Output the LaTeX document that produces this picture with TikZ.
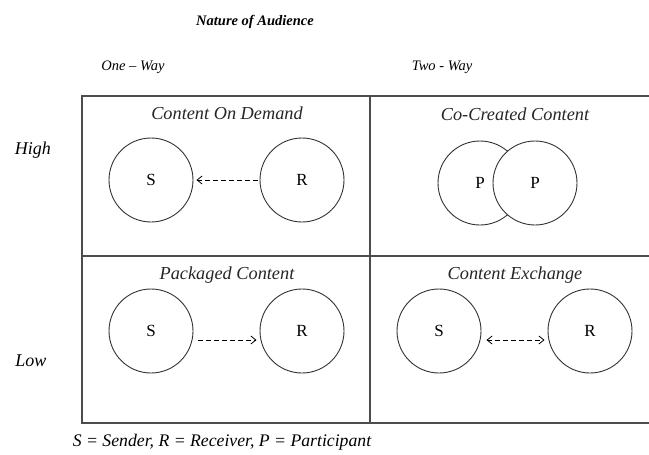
\documentclass[tikz,border=0pt]{standalone}
\usepackage{fontspec}
\setmainfont{Liberation Serif}
\usetikzlibrary{arrows.meta}
\begin{document}
\begin{tikzpicture}[x=1pt,y=-1pt,
  grid/.style={draw=black!70,line width=1.3pt},
  agent/.style={circle,draw=black!80,fill=white,line width=0.9pt,minimum size=84pt,inner sep=0pt,font=\fontsize{17}{19}\selectfont},
  quadtitle/.style={font=\fontsize{18.3}{20}\selectfont\itshape,text=black!85},
  axis/.style={font=\fontsize{14.5}{16}\selectfont\itshape},
  sideaxis/.style={font=\fontsize{18}{20}\selectfont\itshape},
  flow/.style={dashed,dash pattern=on 5pt off 3pt,line width=0.8pt,-{Straight Barb[length=5pt,width=8pt]}},
  flowboth/.style={dashed,dash pattern=on 5pt off 3pt,line width=0.8pt,{Straight Barb[length=5pt,width=8pt]}-{Straight Barb[length=5pt,width=8pt]}}]
\useasboundingbox (0,0) rectangle (649,455);
% grid
\draw[grid] (649,96) -- (82,96) -- (82,423) -- (649,423);
\draw[grid] (82,256) -- (649,256);
\draw[grid] (370,96) -- (370,423);
% headings
\node[font=\fontsize{14.5}{16}\selectfont\bfseries\itshape] (title) at (255,22) {Nature of Audience};
\node[axis] (oneway) at (133,67) {One – Way};
\node[axis] (twoway) at (442,67) {Two - Way};
\node[sideaxis] (high) at (33,150) {High};
\node[sideaxis] (low) at (31,361) {Low};
\node[font=\fontsize{17.7}{19}\selectfont\itshape] (legend) at (222,442) {S = Sender, R = Receiver, P = Participant};
% quadrant titles
\node[quadtitle] (t1) at (227,113) {Content On Demand};
\node[quadtitle] (t2) at (515,114) {Co-Created Content};
\node[quadtitle] (t3) at (227,275) {Packaged Content};
\node[quadtitle] (t4) at (515,275) {Content Exchange};
% top-left
\node[agent] (S1) at (151,180) {S};
\node[agent] (R1) at (302,180) {R};
\draw[flow] ([xshift=-2pt]R1.west) -- ([xshift=3pt]S1.east);
% top-right
\node[agent] (P1) at (480,183) {P};
\node[agent] (P2) at (535,183) {P};
% bottom-left
\node[agent] (S2) at (151,331) {S};
\node[agent] (R2) at (302,331) {R};
\draw[flow] ([xshift=5pt,yshift=-9pt]S2.east) -- ([xshift=-3pt,yshift=-9pt]R2.west);
% bottom-right
\node[agent] (S3) at (439,331) {S};
\node[agent] (R3) at (590,331) {R};
\draw[flowboth] ([xshift=5pt,yshift=-9pt]S3.east) -- ([xshift=-3pt,yshift=-9pt]R3.west);
\end{tikzpicture}
\end{document}
